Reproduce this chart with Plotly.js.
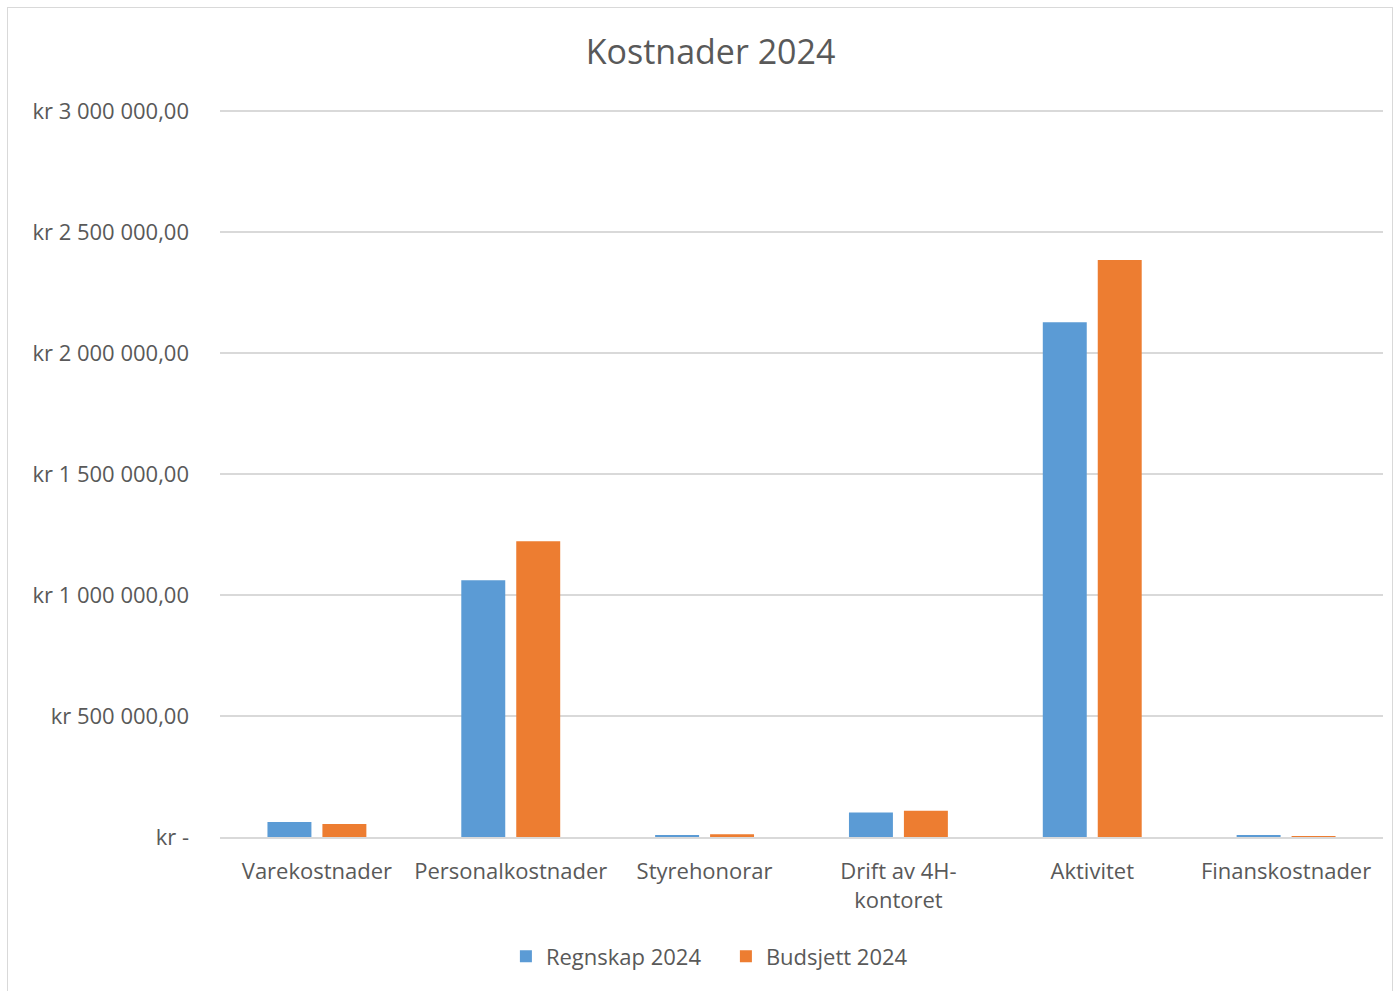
<!DOCTYPE html>
<html>
<head>
<meta charset="utf-8">
<script src="https://cdn.plot.ly/plotly-3.0.1.min.js"></script>
<style>
  body { margin: 0; background: #fff; }
  #chart { width: 1396px; height: 991px; }
  #frame { position: absolute; left: 7px; top: 7px; width: 1386px; height: 990px;
           border: 1.5px solid #d9d9d9; pointer-events: none; box-sizing: border-box; }
</style>
</head>
<body>
<div id="chart"></div>
<div id="frame"></div>
<script>
// Kostnader 2024 — regnskap mot budsjett
const kategorier = ['Varekostnader', 'Personalkostnader', 'Styrehonorar', 'Drift av 4H-<br>kontoret', 'Aktivitet', 'Finanskostnader'];
const regnskap   = [62000, 1062000, 8000, 101000, 2128000, 6000];
const budsjett   = [54000, 1223000, 11000, 109000, 2386000, 2000];

const yTickVals  = [0, 500000, 1000000, 1500000, 2000000, 2500000, 3000000];
const yTickTekst = ['kr -', 'kr 500 000,00', 'kr 1 000 000,00', 'kr 1 500 000,00', 'kr 2 000 000,00', 'kr 2 500 000,00', 'kr 3 000 000,00'];

const FONT  = '"Open Sans", "Liberation Sans", sans-serif';
const TEKST = '#595959';

const trazaRegnskap = {
  x: kategorier, y: regnskap, name: 'Regnskap 2024',
  type: 'bar', marker: { color: '#5B9BD5' }
};
const trazaBudsjett = {
  x: kategorier, y: budsjett, name: 'Budsjett 2024',
  type: 'bar', marker: { color: '#ED7D31' }
};

const layout = {
  title: { text: 'Kostnader 2024', font: { size: 34, color: TEKST, family: FONT },
           x: 0.509, xref: 'container', xanchor: 'center', y: 0.947, yref: 'container', yanchor: 'middle' },
  barmode: 'group', bargap: 0.433, bargroupgap: 0.2,
  margin: { l: 220, r: 13, t: 109, b: 154 },
  font: { family: FONT, color: TEKST },
  xaxis: { tickfont: { size: 22, color: TEKST }, showline: true, linecolor: '#d9d9d9', linewidth: 1.5,
           ticks: '', ticklabelstandoff: 14 },
  yaxis: { range: [0, 3010000], tickvals: yTickVals, ticktext: yTickTekst,
           tickfont: { size: 22, color: TEKST }, gridcolor: '#d9d9d9', gridwidth: 1.5,
           zeroline: false, showline: false, ticks: '', ticklabelstandoff: 30 },
  legend: { orientation: 'h', x: 0.435, xanchor: 'center', y: -0.164, yanchor: 'middle',
            font: { size: 22, color: TEKST }, itemwidth: 30, entrywidth: 175 },
  showlegend: true,
  plot_bgcolor: '#fff', paper_bgcolor: '#fff'
};

Plotly.newPlot('chart', [trazaRegnskap, trazaBudsjett], layout, { displayModeBar: false });
</script>
</body>
</html>
